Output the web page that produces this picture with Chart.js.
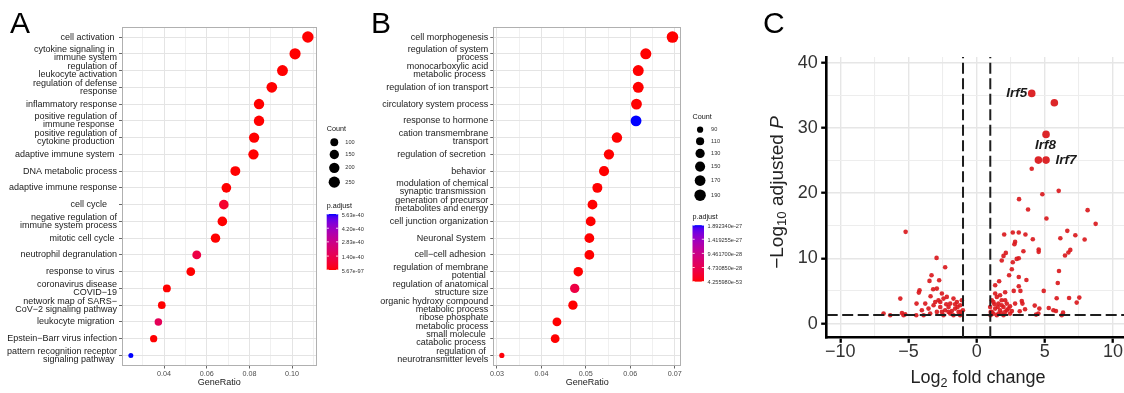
<!DOCTYPE html>
<html><head><meta charset="utf-8">
<script src="https://cdn.jsdelivr.net/npm/chart.js@4.4.1/dist/chart.umd.min.js"></script>
<style>
html,body{margin:0;padding:0;background:#fff;overflow:hidden;width:1124px;height:393px;position:relative;}
canvas{position:absolute;top:0;}
.letter{position:absolute;font-family:"Liberation Sans",Arial,sans-serif;font-size:30px;color:#000;line-height:30px;}
.ctitle{position:absolute;font-family:"Liberation Sans",Arial,sans-serif;color:#222;white-space:nowrap;text-align:center;}
.ctitle sub{font-size:0.7em;vertical-align:-0.28em;line-height:0;}
</style></head><body>
<canvas id="cA" width="370" height="393" style="left:0;width:370px;height:393px"></canvas>
<canvas id="cB" width="390" height="393" style="left:370px;width:390px;height:393px"></canvas>
<canvas id="cC" width="380" height="393" style="left:760px;width:380px;height:393px"></canvas>
<div class="letter" style="left:10px;top:8px">A</div>
<div class="letter" style="left:371px;top:8px">B</div>
<div class="letter" style="left:763px;top:8px">C</div>
<div class="ctitle" style="left:828px;top:368px;width:300px;font-size:18px;line-height:18px">Log<sub>2</sub> fold change</div>
<div class="ctitle" style="left:675.5px;top:183px;width:200px;height:19px;font-size:19px;line-height:19px;transform:rotate(-90deg);transform-origin:50% 50%">&minus;Log<sub>10</sub> adjusted <i>P</i></div>
<script>
// ---------------- Panel A data ----------------
const catsA = [
 'cell activation ',
 ['cytokine signaling in ','immune system'],
 ['regulation of','leukocyte activation'],
 ['regulation of defense','response'],
 'inflammatory response',
 ['positive regulation of','immune response '],
 ['positive regulation of','cytokine production '],
 'adaptive immune system ',
 'DNA metabolic process',
 'adaptive immune response',
 'cell cycle    ',
 ['negative regulation of','immune system process'],
 'mitotic cell cycle ',
 'neutrophil degranulation',
 'response to virus ',
 ['coronavirus disease','COVID\u221219'],
 ['network map of SARS\u2212','CoV\u22122 signaling pathway'],
 'leukocyte migration ',
 'Epstein\u2212Barr virus infection',
 ['pattern recognition receptor','signaling pathway ']
];
const ratioA = [0.1074,0.1014,0.0955,0.0905,0.0845,0.0845,0.0822,0.0819,0.0734,0.0692,0.0680,0.0673,0.0641,0.0553,0.0525,0.0413,0.0389,0.0373,0.0351,0.0244];
const countA = [260,245,231,219,205,205,199,198,178,168,165,163,155,134,127,100,94,90,85,59];
const padjA = [5.67e-97,3.2e-92,1.1e-85,4.5e-80,2.3e-75,8.9e-72,1.6e-68,6.0e-66,2.2e-61,7.4e-58,6.5e-41,3.9e-55,1.8e-52,1.15e-40,4.6e-49,2.8e-46,5.1e-44,1.6e-40,9.3e-43,5.63e-40];
const majorTicksA = [0.04,0.06,0.08,0.10];
const tickLabelsA = ['0.04','0.06','0.08','0.10'];
const minorTicksA = [0.03,0.05,0.07,0.09,0.11];
const legendCountA = [100,150,200,250];
const colorbarLabelsA = ['5.63e-40','4.20e-40','2.83e-40','1.40e-40','5.67e-97'];

// ---------------- Panel B data ----------------
const catsB = [
 'cell morphogenesis',
 ['regulation of system','process'],
 ['monocarboxylic acid','metabolic process '],
 'regulation of ion transport',
 'circulatory system process',
 'response to hormone',
 ['cation transmembrane','transport'],
 'regulation of secretion ',
 'behavior ',
 ['modulation of chemical','synaptic transmission '],
 ['generation of precursor','metabolites and energy'],
 'cell junction organization',
 'Neuronal System ',
 'cell\u2212cell adhesion ',
 ['regulation of membrane','potential '],
 ['regulation of anatomical','structure size'],
 ['organic hydroxy compound','metabolic process'],
 ['ribose phosphate','metabolic process'],
 ['small molecule ','catabolic process '],
 ['regulation of ','neurotransmitter levels']
];
const ratioB = [0.0695,0.0635,0.0618,0.0618,0.0614,0.0613,0.0570,0.0552,0.0541,0.0526,0.0515,0.0511,0.0508,0.0508,0.0483,0.0475,0.0471,0.0435,0.0431,0.0311];
const countB = [195,178,173,173,172,172,160,155,152,147,144,143,142,142,135,133,132,122,121,87];
const padjB = [4.25598e-53,1.2e-49,3.5e-47,8.1e-46,2.2e-44,1.89234e-27,5.3e-42,1.7e-40,4.4e-39,9.8e-38,2.6e-37,6.3e-36,1.5e-35,3.9e-34,8.2e-33,3.8e-28,2.7e-32,6.6e-31,1.4e-30,3.1e-29];
const majorTicksB = [0.03,0.04,0.05,0.06,0.07];
const tickLabelsB = ['0.03','0.04','0.05','0.06','0.07'];
const minorTicksB = [0.035,0.045,0.055,0.065];
const legendCountB = [90,110,130,150,170,190];
const colorbarLabelsB = ['1.892340e-27','1.419255e-27','9.461700e-28','4.730850e-28','4.255980e-53'];

// ---------------- Panel C data ----------------
const log2fcSmall = [
 -5.21,-2.94,-2.31,-3.31,-2.75,-3.46,-3.19,-2.92,-4.19,-4.24,-2.55,-5.60,-3.38,-4.41,-3.77,-3.53,-3.16,-2.80,-2.67,-2.43,
 -2.19,-1.94,-1.70,-1.58,-1.45,-1.33,-1.21,-1.09,-1.01,-1.94,-2.31,-2.92,-3.41,-3.89,-2.43,-1.70,-1.21,-2.06,-1.82,-2.67,
 -3.04,-4.02,-6.83,-6.34,-5.48,-5.36,-4.43,-5.24,-2.23,-1.58,-1.40,-1.16,-2.06,-2.55,
 3.11,4.82,6.02,3.77,5.12,8.14,8.73,2.02,2.65,3.09,3.58,4.12,2.82,2.77,4.55,4.55,3.43,6.14,6.65,7.24,
 7.92,6.87,6.73,6.48,2.14,1.97,1.84,3.09,2.94,2.65,2.58,2.38,3.09,3.65,6.04,5.95,4.92,2.72,3.21,2.09,
 1.65,1.36,3.09,5.87,6.78,7.53,7.34,3.31,3.36,2.82,4.26,3.55,4.60,5.29,5.63,5.82,6.34,4.36,4.53,3.16,
 0.99,1.11,1.23,1.36,1.48,1.60,1.72,1.84,1.97,2.09,2.21,2.33,2.45,1.60,1.23,1.02,1.48,1.97,1.72,1.36,
 1.11,1.84,2.21,2.45,2.09,1.03,1.55,1.31,1.80,2.58,4.04,6.24
];
const negLog10PSmall = [
 14.06,10.07,8.64,7.41,6.64,6.54,5.26,5.36,5.11,4.75,4.60,3.83,4.19,3.06,3.06,2.30,2.81,3.58,2.55,3.83,
 4.09,3.06,3.83,2.30,3.32,1.79,2.81,3.58,2.04,1.53,2.04,1.79,1.53,1.27,1.27,1.27,1.27,2.55,1.94,3.32,
 3.32,2.04,1.53,1.27,1.63,1.27,1.27,1.43,2.96,2.96,2.55,1.79,1.79,1.79,
 19.07,19.83,20.34,17.48,16.10,17.38,15.28,13.65,13.95,13.95,13.65,12.93,12.52,12.16,11.35,10.99,11.09,13.08,14.21,13.54,
 12.88,11.29,10.89,10.43,10.83,10.37,9.66,10.02,9.91,9.40,8.33,7.41,7.15,6.69,8.07,6.23,5.01,5.01,5.01,4.80,
 6.49,5.88,5.72,3.88,3.93,3.98,3.22,3.47,3.06,3.06,2.76,2.20,2.30,2.40,2.04,1.94,1.68,1.38,1.53,1.89,
 2.55,1.79,3.32,2.30,4.09,3.06,2.04,3.58,2.55,1.79,3.06,2.30,1.53,1.53,1.53,1.27,1.27,1.27,4.34,4.60,
 3.58,2.81,2.04,2.66,3.58,1.79,2.55,2.96,1.63,1.94,23.72,1.27
];
const log2fcBig = [4.04,5.70,5.09,4.53,5.09];
const negLog10PBig = [35.27,33.83,28.99,25.05,25.05];
const geneNames = ['Irf5','Irf8','Irf7'];
const geneBigIndex = [0,3,4];
const fcCutoffs = [-1,1];
const pCutoff = 0.05;
const majorTicksCx = [-10,-5,0,5,10];
const minorTicksCx = [-7.5,-2.5,2.5,7.5];
const majorTicksCy = [0,10,20,30,40];
const minorTicksCy = [5,15,25,35];

// ---------------- helpers ----------------
Chart.defaults.font.family = '"Liberation Sans", Arial, sans-serif';
function lin(c){c/=255;return c<=0.04045?c/12.92:Math.pow((c+0.055)/1.055,2.4);}
function gam(c){c=c<=0.0031308?12.92*c:1.055*Math.pow(c,1/2.4)-0.055;return Math.max(0,Math.min(255,Math.round(c*255)));}
const WN=[0.95047,1,1.08883];
function toLab(rgb){const [R,G,B]=rgb.map(lin);const X=(0.4124564*R+0.3575761*G+0.1804375*B)/WN[0],Y=(0.2126729*R+0.7151522*G+0.0721750*B)/WN[1],Z=(0.0193339*R+0.1191920*G+0.9503041*B)/WN[2];const f=t=>t>0.008856?Math.cbrt(t):7.787*t+16/116;const fx=f(X),fy=f(Y),fz=f(Z);return [116*fy-16,500*(fx-fy),200*(fy-fz)];}
function fromLab([L,a,b]){const fy=(L+16)/116,fx=fy+a/500,fz=fy-b/200;const fi=t=>t*t*t>0.008856?t*t*t:(t-16/116)/7.787;const X=fi(fx)*WN[0],Y=fi(fy)*WN[1],Z=fi(fz)*WN[2];const R=3.2404542*X-1.5371385*Y-0.4985314*Z,G=-0.9692660*X+1.8760108*Y+0.0415560*Z,B=0.0556434*X-0.2040259*Y+1.0572252*Z;return 'rgb('+gam(R)+','+gam(G)+','+gam(B)+')';}
const LAB_LOW=toLab([255,0,0]), LAB_HIGH=toLab([0,0,255]);
function gradColor(t){t=Math.max(0,Math.min(1,t));return fromLab(LAB_LOW.map((v,i)=>v+(LAB_HIGH[i]-v)*t));}
const near=(a,b)=>Math.abs(a-b)<1e-9;

const framePlugin = {id:'frame', afterDraw(ch){const {left,top,right,bottom}=ch.chartArea;const c=ch.ctx;c.save();c.strokeStyle='#b0b0b0';c.lineWidth=1;c.strokeRect(Math.round(left)+0.5,Math.round(top)+0.5,Math.round(right)-Math.round(left)-1,Math.round(bottom)-Math.round(top)-1);c.restore();}};

function dotplot(id, cats, ratio, count, padj, majors, majorLabels, minors, legCounts, barLabels, o){
  const n=cats.length;
  const lo=Math.min(...ratio), hi=Math.max(...ratio), R=hi-lo;
  const cmin=Math.min(...count), cmax=Math.max(...count);
  const rad=c=>o.rmin+(o.rmax-o.rmin)*Math.sqrt(Math.max(0,(c-cmin)/(cmax-cmin)));
  const pmin=Math.min(...padj), pmax=Math.max(...padj);
  const col=p=>gradColor((p-pmin)/(pmax-pmin));
  const isMajor=v=>majors.some(m=>near(m,v));
  const allTicks=majors.concat(minors).sort((a,b)=>a-b);
  const legend={id:'dotLegend', afterDraw(ch){
    const c=ch.ctx, x0=ch.chartArea.right+o.legDx; c.save();
    c.textBaseline='middle'; c.textAlign='left';
    c.fillStyle='#111'; c.font='7.2px "Liberation Sans"'; c.fillText('Count', x0, o.legTop);
    let y=o.legTop+o.keyGap;
    legCounts.forEach(v=>{const r=rad(v);const h=Math.max(o.minKey,2*r+3.5);const cy=y+h/2;
      c.fillStyle='#000';c.beginPath();c.arc(x0+7.6,cy,r,0,Math.PI*2);c.fill();
      c.fillStyle='#333';c.font='5.6px "Liberation Sans"';c.fillText(String(v),x0+18.6,cy);y+=h;});
    const pt=y+o.afterKeys; c.fillStyle='#111'; c.font='7.2px "Liberation Sans"'; c.fillText('p.adjust', x0, pt);
    const bt=pt+o.barGap, bh=o.barH, bw=11.5;
    const g=c.createLinearGradient(0,bt+bh,0,bt); for(let k=0;k<=20;k++){g.addColorStop(k/20,gradColor(k/20));}
    c.fillStyle=g; c.fillRect(x0,bt,bw,bh);
    c.fillStyle='#333'; c.font='5.6px "Liberation Sans"';
    barLabels.forEach(s=>{const t=(Number(s)-pmin)/(pmax-pmin);const yy=bt+(1-t)*bh+1;c.fillText(s,x0+bw+3.5,yy);
      c.strokeStyle='#fff';c.lineWidth=0.8;c.beginPath();c.moveTo(x0,bt+(1-t)*bh);c.lineTo(x0+2.2,bt+(1-t)*bh);c.moveTo(x0+bw-2.2,bt+(1-t)*bh);c.lineTo(x0+bw,bt+(1-t)*bh);c.stroke();});
    c.restore();
  }};
  return new Chart(document.getElementById(id), {
    type:'bubble',
    data:{datasets:[{data:ratio.map((x,i)=>({x:x,y:i,r:rad(count[i])})), backgroundColor:padj.map(col), borderWidth:0, hoverRadius:0, hoverBorderWidth:0}]},
    options:{
      responsive:false, animation:false, devicePixelRatio:1, events:[],
      layout:{padding:{left:0,right:o.padRight,top:o.top,bottom:0}},
      plugins:{legend:{display:false},tooltip:{enabled:false}},
      scales:{
        x:{type:'linear', min:lo-0.05*R, max:hi+0.05*R,
          afterBuildTicks:s=>{s.ticks=allTicks.map(v=>({value:v}));},
          afterFit:s=>{s.height=o.xAxisH;},
          border:{display:false},
          grid:{color:c=>isMajor(c.tick.value)?'#e4e4e4':'#f0f0f0', lineWidth:1, tickLength:3, tickWidth:1,
                tickColor:c=>isMajor(c.tick.value)?'#666':'rgba(0,0,0,0)'},
          ticks:{autoSkip:false, maxRotation:0, minRotation:0, padding:1, color:'#4d4d4d', font:{size:7.2},
                 callback:v=>{const k=majors.findIndex(m=>near(m,v));return k>=0?majorLabels[k]:'';}},
          title:{display:true, text:'GeneRatio', color:'#1a1a1a', font:{size:9}, padding:{top:0,bottom:o.titlePad}}
        },
        y:{type:'linear', reverse:true, min:-0.6, max:n-1+0.6,
          afterBuildTicks:s=>{s.ticks=cats.map((_,i)=>({value:i}));},
          afterFit:s=>{s.width=o.yAxisW;},
          border:{display:false},
          grid:{color:'#e4e4e4', lineWidth:1, tickLength:3, tickColor:'#666'},
          ticks:{autoSkip:false, padding:2, color:'#1a1a1a', font:{size:9, lineHeight:0.92}, callback:v=>cats[v]}
        }
      }
    },
    plugins:[framePlugin, legend]
  });
}

dotplot('cA', catsA, ratioA, countA, padjA, majorTicksA, tickLabelsA, minorTicksA, legendCountA, colorbarLabelsA,
  {rmin:2.5, rmax:5.7, padRight:53.3, top:27, xAxisH:27.5, yAxisW:122, titlePad:5,
   legDx:10, legTop:129, keyGap:7.4, minKey:11.7, afterKeys:16.5, barGap:8, barH:56});
dotplot('cB', catsB, ratioB, countB, padjB, majorTicksB, tickLabelsB, minorTicksB, legendCountB, colorbarLabelsB,
  {rmin:2.6, rmax:5.8, padRight:79, top:27, xAxisH:27.5, yAxisW:123.3, titlePad:5,
   legDx:11.5, legTop:117.3, keyGap:6.6, minKey:11.5, afterKeys:14.8, barGap:7.7, barH:56.5});

// ---------------- Panel C ----------------
const cMajX=v=>majorTicksCx.some(m=>near(m,v));
const cMajY=v=>majorTicksCy.some(m=>near(m,v));
const fmtMinus=v=>v<0?'\u2212'+Math.abs(v):String(v);
const volcanoPlugin={id:'volcano', afterDatasetsDraw(ch){
  const c=ch.ctx,{left,right,top,bottom}=ch.chartArea,xs=ch.scales.x,ys=ch.scales.y;
  c.save(); c.strokeStyle='#1e1e1e'; c.lineWidth=2; c.setLineDash([11,4.5]);
  fcCutoffs.forEach(v=>{const px=xs.getPixelForValue(v);c.beginPath();c.moveTo(px,bottom);c.lineTo(px,top);c.stroke();});
  const py=ys.getPixelForValue(-Math.log10(pCutoff)); c.beginPath(); c.moveTo(left,py); c.lineTo(right,py); c.stroke();
  c.setLineDash([]);
  c.font='italic bold 13.5px "Liberation Sans"'; c.fillStyle='#1a1a1a'; c.textBaseline='middle';
  const place=[{dx:-4.5,dy:0,al:'right'},{dx:7,dy:-15,al:'center'},{dx:9.5,dy:0,al:'left'}];
  geneNames.forEach((g,k)=>{const i=geneBigIndex[k];const px=xs.getPixelForValue(log2fcBig[i]),pyy=ys.getPixelForValue(negLog10PBig[i]);
    c.textAlign=place[k].al; c.fillText(g,px+place[k].dx,pyy+place[k].dy);});
  c.restore();
}};
new Chart(document.getElementById('cC'), {
  type:'scatter',
  data:{datasets:[
    {data:log2fcSmall.map((x,i)=>({x:x,y:negLog10PSmall[i]})), pointRadius:2.3, pointHoverRadius:2.3, backgroundColor:'rgba(218,26,30,0.92)', borderWidth:0},
    {data:log2fcBig.map((x,i)=>({x:x,y:negLog10PBig[i]})), pointRadius:3.8, pointHoverRadius:3.8, backgroundColor:'rgba(218,26,30,0.95)', borderWidth:0}
  ]},
  options:{
    responsive:false, animation:false, devicePixelRatio:1, events:[],
    layout:{padding:{left:0,right:13.4,top:57,bottom:0}},
    plugins:{legend:{display:false},tooltip:{enabled:false}},
    scales:{
      x:{type:'linear', min:-11, max:11,
        afterBuildTicks:s=>{s.ticks=majorTicksCx.concat(minorTicksCx).sort((a,b)=>a-b).map(v=>({value:v}));},
        afterFit:s=>{s.height=55.7;},
        border:{display:true,color:'#000',width:2.6},
        grid:{color:c=>cMajX(c.tick.value)?'#e6e6e6':'#ededed', lineWidth:c=>cMajX(c.tick.value)?1.4:1.1, tickLength:5.5,
              tickColor:c=>cMajX(c.tick.value)?'#000':'rgba(0,0,0,0)', tickWidth:2.3},
        ticks:{autoSkip:false, maxRotation:0, minRotation:0, padding:-1.5, color:'#333', font:{size:18},
               callback:v=>cMajX(v)?fmtMinus(v):''}
      },
      y:{type:'linear', min:-2.1, max:40.85,
        afterBuildTicks:s=>{s.ticks=majorTicksCy.concat(minorTicksCy).sort((a,b)=>a-b).map(v=>({value:v}));},
        afterFit:s=>{s.width=66.7;},
        border:{display:true,color:'#000',width:2.6},
        grid:{color:c=>cMajY(c.tick.value)?'#e6e6e6':'#ededed', lineWidth:c=>cMajY(c.tick.value)?1.4:1.1, tickLength:5.5,
              tickColor:c=>cMajY(c.tick.value)?'#000':'rgba(0,0,0,0)', tickWidth:2.3},
        ticks:{autoSkip:false, padding:3.5, color:'#333', font:{size:18},
               callback:v=>cMajY(v)?String(v):''}
      }
    }
  },
  plugins:[volcanoPlugin]
});
</script>
</body></html>
